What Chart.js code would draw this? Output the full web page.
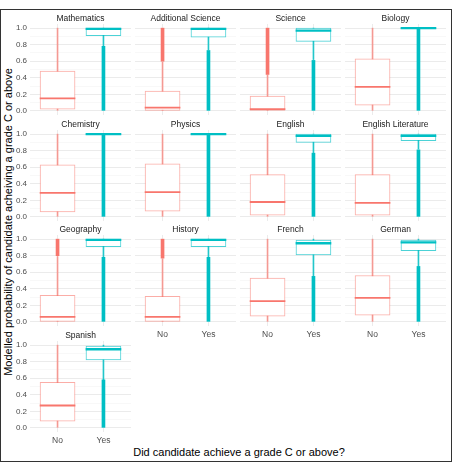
<!DOCTYPE html>
<html>
<head>
<meta charset="utf-8">
<script src="https://cdn.jsdelivr.net/npm/chart.js@4.4.1/dist/chart.umd.min.js"></script>
<style>
  html, body { margin: 0; padding: 0; background: #ffffff; }
  #wrap { position: relative; width: 454px; height: 465px; overflow: hidden; background: #fff; font-family: "Liberation Sans", Arial, sans-serif; }
  #frame { position: absolute; left: 0; top: 9px; width: 452px; height: 453px; border: 1px solid #333; box-sizing: border-box; }
  .pc { position: absolute; }
  #ytitle { position: absolute; left: 8px; top: 222px; transform: translate(-50%, -50%) rotate(-90deg); white-space: nowrap; font-size: 11px; color: #000; }
  #xtitle { position: absolute; left: 239px; top: 452px; transform: translate(-50%, -50%); white-space: nowrap; font-size: 11px; color: #000; }
</style>
</head>
<body>
<div id="wrap">
  <div id="frame"></div>
  <div id="ytitle">Modelled probability of candidate acheiving a grade C or above</div>
  <div id="xtitle">Did candidate achieve a grade C or above?</div>
</div>
<script>
// ---- data ----
const subjects = ['Mathematics','Additional Science','Science','Biology','Chemistry','Physics','English','English Literature','Geography','History','French','German','Spanish'];
const categories = ['No','Yes'];
const yTickValues = [0,0.1,0.2,0.3,0.4,0.5,0.6,0.7,0.8,0.9,1.0];

// "No" group box statistics
const noMin    = [0,0,0,0,0,0,0,0,0,0,0,0,0];
const noQ1     = [0.02,0.0,0.0,0.07,0.06,0.07,0.02,0.02,0.0,0.0,0.07,0.08,0.08];
const noMedian = [0.15,0.04,0.02,0.29,0.29,0.30,0.18,0.17,0.06,0.06,0.25,0.29,0.27];
const noQ3     = [0.48,0.24,0.18,0.63,0.63,0.64,0.51,0.51,0.32,0.31,0.53,0.56,0.55];
const noMax    = [1.0,0.59,0.43,1.0,1.0,1.0,1.0,1.0,0.79,0.76,1.0,1.0,1.0];
const noOutLo  = [null,0.60,0.44,null,null,null,null,null,0.80,0.77,null,null,null];
const noOutHi  = [null,1.0,1.0,null,null,null,null,null,1.0,1.0,null,null,null];

// "Yes" group box statistics
const yesMin    = [0.78,0.74,0.62,1.0,1.0,1.0,0.77,0.82,0.78,0.78,0.55,0.67,0.58];
const yesQ1     = [0.91,0.89,0.84,0.995,0.995,0.995,0.90,0.92,0.91,0.91,0.81,0.86,0.82];
const yesMedian = [0.99,0.99,0.97,1.0,1.0,1.0,0.98,0.98,0.99,0.99,0.95,0.96,0.95];
const yesQ3     = [1.0,1.0,1.0,1.0,1.0,1.0,1.0,1.0,1.0,1.0,0.99,0.99,0.99];
const yesMax    = [1.0,1.0,1.0,1.0,1.0,1.0,1.0,1.0,1.0,1.0,1.0,1.0,1.0];
const yesOutLo  = [0,0,0,0,0,0,0,0,0,0,0,0,0];
const yesOutHi  = [0.78,0.73,0.61,1.0,1.0,1.0,0.77,0.81,0.78,0.78,0.55,0.67,0.58];

// ---- styling / layout ----
const RED = '#F8766D', TEAL = '#00BFC4';
const RED_BOX = 'rgba(248,118,109,0.6)', TEAL_BOX = 'rgba(0,191,196,0.7)';
const RED_WH = 'rgba(248,118,109,0.7)', TEAL_WH = 'rgba(0,191,196,0.85)';
const FONT = '"Liberation Sans", Arial, sans-serif';

const PANEL_LEFT0 = 30, COL_STEP = 105, PANEL_W = 101;
const PANEL_TOPS = [24, 130, 235, 341], PANEL_H = 91;
const SIDE_W = 28, STRIP_H = 16, BOTTOM_H = 15;

const wrap = document.getElementById('wrap');

subjects.forEach((name, i) => {
  const row = Math.floor(i / 4), col = i % 4;
  const panelLeft = PANEL_LEFT0 + col * COL_STEP;
  const panelTop = PANEL_TOPS[row];
  const div = document.createElement('div');
  div.className = 'pc';
  div.style.left = (panelLeft - SIDE_W) + 'px';
  div.style.top = (panelTop - STRIP_H) + 'px';
  div.style.width = (SIDE_W + PANEL_W + SIDE_W) + 'px';
  div.style.height = (STRIP_H + PANEL_H + BOTTOM_H) + 'px';
  const cv = document.createElement('canvas');
  div.appendChild(cv);
  wrap.appendChild(div);

  const showY = col === 0;
  const showX = i >= 9;

  const outliers = [];
  const outColors = [];
  if (noOutLo[i] !== null) { outliers.push({x: 1, y: [noOutLo[i], noOutHi[i]]}); outColors.push(RED); }
  if (yesOutLo[i] !== null) { outliers.push({x: 2, y: [yesOutLo[i], yesOutHi[i]]}); outColors.push(TEAL); }

  const datasets = [
    { // medians (drawn on top)
      label: 'median', order: 0, grouped: false, barThickness: 35,
      data: [{x: 1, y: [noMedian[i] - 0.007, noMedian[i] + 0.007]},
             {x: 2, y: [yesMedian[i] - 0.01, yesMedian[i] + 0.01]}],
      backgroundColor: [RED, TEAL], borderWidth: 0
    },
    { // boxes
      label: 'box', order: 1, grouped: false, barThickness: 35,
      data: [{x: 1, y: [noQ1[i], noQ3[i]]}, {x: 2, y: [yesQ1[i], yesQ3[i]]}],
      backgroundColor: '#ffffff', borderColor: [RED_BOX, TEAL_BOX],
      borderWidth: 1, borderSkipped: false
    },
    { // whiskers
      label: 'whisker', order: 2, grouped: false, barThickness: 1,
      data: [{x: 1, y: [noMin[i], noMax[i]]}, {x: 2, y: [yesMin[i], yesMax[i]]}],
      backgroundColor: [RED_WH, TEAL_WH], borderWidth: 0
    },
    { // dense outliers
      label: 'outliers', order: 3, grouped: false, barThickness: 3,
      data: outliers, backgroundColor: outColors, borderWidth: 0
    }
  ];

  new Chart(cv, {
    type: 'bar',
    data: { datasets },
    options: {
      responsive: true,
      maintainAspectRatio: false,
      animation: false,
      events: [],
      layout: { padding: 0, autoPadding: false },
      plugins: {
        legend: { display: false },
        tooltip: { enabled: false },
        title: {
          display: true, text: name, color: '#1A1A1A',
          font: { size: 8.5, family: FONT, weight: 'normal', lineHeight: 1.2 },
          padding: { top: 5.3, bottom: 0.5 }
        }
      },
      scales: {
        x: {
          type: 'linear', min: 0.4, max: 2.6, offset: false,
          afterBuildTicks: s => { s.ticks = [{value: 1}, {value: 2}]; },
          afterFit: s => { s.height = BOTTOM_H; },
          ticks: {
            display: showX, autoSkip: false, maxRotation: 0, padding: 4,
            color: '#4D4D4D', font: { size: 8.5, family: FONT },
            callback: v => categories[Math.round(v) - 1]
          },
          grid: { color: '#EBEBEB', lineWidth: 1, drawTicks: false, offset: false },
          border: { display: false }
        },
        y: {
          type: 'linear', min: -0.05, max: 1.05,
          afterBuildTicks: s => { s.ticks = yTickValues.map(v => ({value: v})); },
          afterFit: s => { s.width = SIDE_W; },
          ticks: {
            display: showY, autoSkip: false, padding: 3,
            color: '#4D4D4D', font: { size: 8, family: FONT },
            callback: v => (Math.round(v * 10) % 2 === 0) ? v.toFixed(1) : ''
          },
          grid: {
            drawTicks: false,
            color: c => (c.tick && Math.round(c.tick.value * 10) % 2 === 0) ? '#EBEBEB' : '#F4F4F4',
            lineWidth: c => (c.tick && Math.round(c.tick.value * 10) % 2 === 0) ? 1 : 0.6
          },
          border: { display: false }
        },
        yRight: {
          type: 'linear', position: 'right', min: 0, max: 1,
          afterFit: s => { s.width = SIDE_W; },
          ticks: { display: false },
          grid: { display: false },
          border: { display: false }
        }
      }
    }
  });
});
</script>
</body>
</html>
